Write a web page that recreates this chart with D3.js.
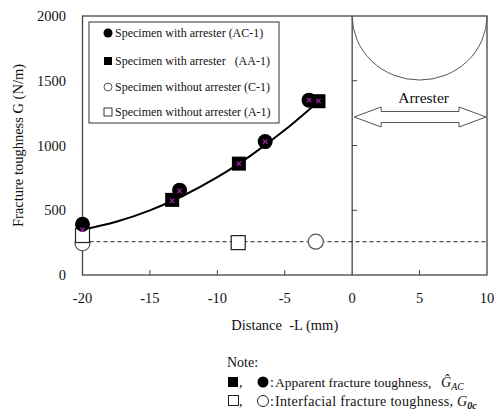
<!DOCTYPE html>
<html><head><meta charset="utf-8">
<script src="https://cdn.jsdelivr.net/npm/d3@7"></script>
<style>
html,body{margin:0;padding:0;background:#fff;}
</style></head>
<body><svg id="c" width="494" height="417" font-family="'Liberation Serif', 'DejaVu Serif', serif"></svg>
<script>
// ---- data ----
const xTicks = [-20, -15, -10, -5, 0, 5, 10];
const yTicks = [0, 500, 1000, 1500, 2000];
const acX = [-20, -12.8, -6.45, -3.2];          // Specimen with arrester (AC-1)
const acY = [392, 655, 1030, 1350];
const aaX = [-13.35, -8.4, -2.5];                // Specimen with arrester (AA-1)
const aaY = [580, 860, 1342];
const cX = [-20, -2.7];                          // Specimen without arrester (C-1)
const cY = [245, 257];
const aX = [-20, -8.45];                         // Specimen without arrester (A-1)
const aY = [305, 250];
const fitX = [-20, -17.5, -15, -12.5, -10, -7.5, -5, -2.5];   // fitted curve (read)
const fitY = [350, 411, 499, 614, 755, 924, 1119, 1340];
const crossX = [-20, -13.35, -12.8, -8.4, -6.45, -3.2, -2.5];  // purple marks
const crossY = [350, 575, 650, 860, 1030, 1350, 1345];
const dashedLevel = [257];
const legendLabels = ["Specimen with arrester (AC-1)", "Specimen with arrester   (AA-1)",
  "Specimen without arrester (C-1)", "Specimen without arrester (A-1)"];

const svg = d3.select("#c");
const L = 82.5, R = 487, T = 16, B = 275;
const x = d3.scaleLinear().domain([-20, 10]).range([L, R]);
const y = d3.scaleLinear().domain([0, 2000]).range([B, T]);
const axisCol = "#444";
const txtCol = "#111";

// frame
svg.append("rect").attr("x", L).attr("y", T).attr("width", R - L).attr("height", B - T)
  .attr("fill", "none").attr("stroke", axisCol).attr("stroke-width", 1.3);
svg.append("line").attr("x1", x(0)).attr("x2", x(0)).attr("y1", T).attr("y2", B)
  .attr("stroke", axisCol).attr("stroke-width", 1.3);

// x ticks (inward)
svg.append("g").selectAll("line").data(xTicks.filter(d => d > -20 && d < 10 && d !== 0)).join("line")
  .attr("x1", d => x(d)).attr("x2", d => x(d)).attr("y1", B).attr("y2", B - 5)
  .attr("stroke", axisCol).attr("stroke-width", 1);
// y ticks on the x=0 line
svg.append("g").selectAll("line").data(yTicks.filter(d => d > 0 && d < 2000)).join("line")
  .attr("x1", x(0)).attr("x2", x(0) + 5).attr("y1", d => y(d)).attr("y2", d => y(d))
  .attr("stroke", axisCol).attr("stroke-width", 1);

// tick labels
svg.append("g").selectAll("text").data(xTicks).join("text")
  .attr("x", d => x(d)).attr("y", B + 28).attr("text-anchor", "middle").attr("fill", txtCol)
  .attr("font-size", 14.5).text(d => d);
svg.append("g").selectAll("text").data(yTicks).join("text")
  .attr("x", 66).attr("y", d => y(d) + 5).attr("text-anchor", "end").attr("fill", txtCol)
  .attr("font-size", 14.5).text(d => d);

// axis titles
svg.append("text").attr("x", (L + R) / 2).attr("y", B + 55).attr("text-anchor", "middle").attr("fill", txtCol)
  .attr("font-size", 14.5).style("white-space", "pre").text("Distance  -L (mm)");
svg.append("text").attr("transform", `translate(23,${(T + B) / 2}) rotate(-90)`).attr("fill", txtCol)
  .attr("text-anchor", "middle").attr("font-size", 14.5).text("Fracture toughness G (N/m)");

// semicircle (arrester)
const rx = x(10) - x(5);
svg.append("path")
  .attr("d", `M${x(0)},${T} A${rx},${rx * 0.95} 0 0 0 ${x(10)},${T}`)
  .attr("fill", "none").attr("stroke", "#555").attr("stroke-width", 1);

// double arrow
const ay = 117, sh = 5.5, hh = 10, hl = 27, ax0 = x(0) + 2, ax1 = x(10) - 1;
const arrow = [[ax0, ay], [ax0 + hl, ay - hh], [ax0 + hl, ay - sh], [ax1 - hl, ay - sh], [ax1 - hl, ay - hh],
  [ax1, ay], [ax1 - hl, ay + hh], [ax1 - hl, ay + sh], [ax0 + hl, ay + sh], [ax0 + hl, ay + hh]];
svg.append("path").attr("d", d3.line()(arrow) + "Z").attr("fill", "#fff")
  .attr("stroke", "#555").attr("stroke-width", 1);
svg.append("text").attr("x", (x(0) + x(10)) / 2 + 4).attr("y", 103).attr("text-anchor", "middle").attr("fill", txtCol)
  .attr("font-size", 15.5).text("Arrester");

// dashed line
svg.append("line").attr("x1", L).attr("x2", R).attr("y1", y(dashedLevel[0])).attr("y2", y(dashedLevel[0]))
  .attr("stroke", "#222").attr("stroke-width", 1).attr("stroke-dasharray", "4,3");

// fitted curve
svg.append("path").datum(fitX.map((d, i) => [d, fitY[i]]))
  .attr("d", d3.line().x(d => x(d[0])).y(d => y(d[1])).curve(d3.curveCatmullRom))
  .attr("fill", "none").attr("stroke", "#000").attr("stroke-width", 2);

const ms = 14;
svg.append("g").selectAll("circle").data(cX.map((d, i) => [d, cY[i]])).join("circle")
  .attr("cx", d => x(d[0])).attr("cy", d => y(d[1])).attr("r", 7.5)
  .attr("fill", "#fff").attr("stroke", "#555").attr("stroke-width", 1.2);
svg.append("g").selectAll("rect").data(aX.map((d, i) => [d, aY[i]])).join("rect")
  .attr("x", d => x(d[0]) - ms / 2).attr("y", d => y(d[1]) - ms / 2).attr("width", ms).attr("height", ms)
  .attr("fill", "#fff").attr("stroke", "#222").attr("stroke-width", 1.2);
svg.append("g").selectAll("rect").data(aaX.map((d, i) => [d, aaY[i]])).join("rect")
  .attr("x", d => x(d[0]) - ms / 2).attr("y", d => y(d[1]) - ms / 2).attr("width", ms).attr("height", ms)
  .attr("fill", "#000");
svg.append("g").selectAll("circle").data(acX.map((d, i) => [d, acY[i]])).join("circle")
  .attr("cx", d => x(d[0])).attr("cy", d => y(d[1])).attr("r", 7.5).attr("fill", "#000");
svg.append("g").selectAll("path").data(crossX.map((d, i) => [d, crossY[i]])).join("path")
  .attr("transform", d => `translate(${x(d[0])},${y(d[1])})`)
  .attr("d", d3.symbol(d3.symbolX, 14)()).attr("stroke", "#9b1fa0").attr("stroke-width", 1.3).attr("fill", "none");

// legend
const lg = svg.append("g");
lg.append("rect").attr("x", 89).attr("y", 22).attr("width", 190).attr("height", 101)
  .attr("fill", "#fff").attr("stroke", "#333").attr("stroke-width", 1);
const ly = [33, 61, 87, 112];
legendLabels.forEach((t, i) => {
  const cy = ly[i], cx = 108;
  if (i === 0) lg.append("circle").attr("cx", cx).attr("cy", cy).attr("r", 4.5).attr("fill", "#000");
  if (i === 1) lg.append("rect").attr("x", cx - 4).attr("y", cy - 4).attr("width", 8).attr("height", 8).attr("fill", "#000");
  if (i === 2) lg.append("circle").attr("cx", cx).attr("cy", cy).attr("r", 4).attr("fill", "#fff").attr("stroke", "#444").attr("stroke-width", 0.9);
  if (i === 3) lg.append("rect").attr("x", cx - 4).attr("y", cy - 4).attr("width", 8).attr("height", 8).attr("fill", "#fff").attr("stroke", "#222").attr("stroke-width", 0.9);
  lg.append("text").attr("x", 115).attr("y", cy + 4).attr("font-size", 12).attr("fill", txtCol)
    .style("white-space", "pre").text(t);
});

// notes
const g = svg.append("g").attr("fill", txtCol).attr("font-size", 14);
g.append("text").attr("x", 227).attr("y", 367).text("Note:");
// line 2
g.append("rect").attr("x", 228).attr("y", 377).attr("width", 10).attr("height", 10).attr("fill", "#000");
g.append("text").attr("x", 239).attr("y", 387).text(",");
g.append("circle").attr("cx", 263).attr("cy", 382).attr("r", 5.5).attr("fill", "#000");
g.append("text").attr("x", 270).attr("y", 387).text(":");
g.append("text").attr("x", 275).attr("y", 387).attr("font-size", 13.5).text("Apparent fracture toughness,");
const gh = g.append("text").attr("x", 441).attr("y", 387).attr("font-style", "italic");
gh.append("tspan").text("G\u0302");
gh.append("tspan").attr("font-size", 10).attr("dy", 3).text("AC");
// line 3
g.append("rect").attr("x", 228.5).attr("y", 395.5).attr("width", 10).attr("height", 10)
  .attr("fill", "#fff").attr("stroke", "#222").attr("stroke-width", 1);
g.append("text").attr("x", 239).attr("y", 406).text(",");
g.append("circle").attr("cx", 263).attr("cy", 401).attr("r", 5.5)
  .attr("fill", "#fff").attr("stroke", "#222").attr("stroke-width", 1);
g.append("text").attr("x", 270).attr("y", 406).text(":");
g.append("text").attr("x", 275).attr("y", 406).attr("textLength", 178).attr("lengthAdjust", "spacing")
  .text("Interfacial fracture toughness,");
const g0 = g.append("text").attr("x", 457).attr("y", 406).attr("font-style", "italic");
g0.append("tspan").text("G");
g0.append("tspan").attr("font-size", 10).attr("font-weight", "bold").attr("dy", 3).text("0c");
</script></body></html>
